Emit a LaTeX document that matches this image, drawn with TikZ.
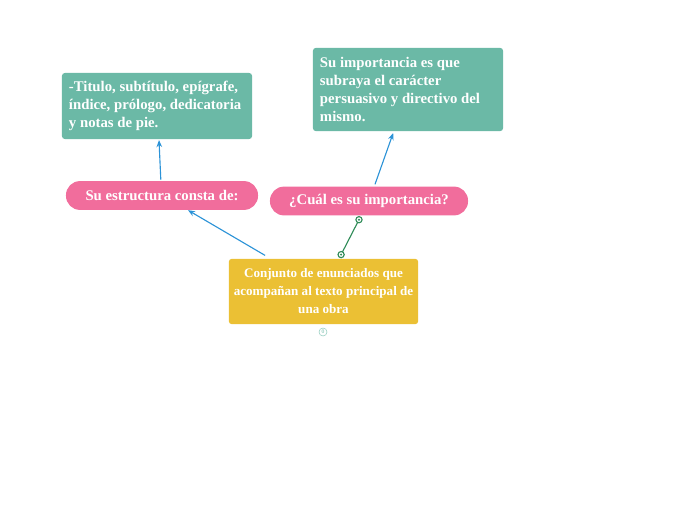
\documentclass[tikz,border=0pt]{standalone}
\usepackage{fontspec}
\setmainfont{Liberation Serif}
\usetikzlibrary{arrows.meta}
\definecolor{amarillo}{HTML}{EBC034}
\definecolor{rosa}{HTML}{F16D9C}
\definecolor{verde}{HTML}{6BB9A6}
\definecolor{azul}{HTML}{2C93D7}
\definecolor{verdeosc}{HTML}{2E8B57}
\begin{document}
\begin{tikzpicture}[x=0.025cm, y=-0.025cm,
    font=\fontsize{10.5}{12.8}\selectfont\bfseries,
    caja/.style={rectangle, rounded corners=2pt, text=white, inner sep=0pt},
    tema/.style={caja, rounded corners=0.35cm, fill=rosa, minimum height=0.72cm},
    idea/.style={caja, fill=verde, align=flush left, text width=4.4cm},
    flecha/.style={-{Stealth[length=5pt,width=4pt]}, azul, thick},
    enlace/.style={verdeosc, thick}]

    \useasboundingbox (0,0) rectangle (696,520);

    % nodos
    \node[caja, fill=amarillo, minimum width=4.73cm, minimum height=1.63cm, align=center,
        font=\fontsize{9.3}{12.8}\selectfont\bfseries] (central) at (323.5,291.5)
        {Conjunto de enunciados que\\acompañan al texto principal de\\una obra};
    \node[tema, minimum width=4.8cm] (estructura) at (162,195.5) {Su estructura consta de:};
    \node[tema, minimum width=4.95cm] (importancia) at (369,201) {¿Cuál es su importancia?};
    \node[idea, minimum width=4.75cm, minimum height=1.65cm] (partes) at (157,106)
        {-Titulo, subtítulo, epígrafe,\\índice, prólogo, dedicatoria\\y notas de pie.};
    \node[idea, minimum width=4.75cm, minimum height=2.08cm] (razon) at (408,89.5)
        {Su importancia es que\\subraya el carácter\\persuasivo y directivo del\\mismo.};
    \node[circle, draw=verde!70, fill=white, inner sep=0pt, minimum size=0.2cm,
        font=\fontsize{4}{4}\selectfont, text=verde] (plegar) at (323,332) {0};

    % flechas
    \draw[flecha] ([xshift=-1.46cm, yshift=0.08cm]central.north) -- ([xshift=0.65cm]estructura.south);
    \draw[flecha] ([xshift=-0.03cm, yshift=0.03cm]estructura.north) -- ([xshift=0.05cm, yshift=-0.02cm]partes.south);
    \draw[flecha] ([xshift=0.15cm, yshift=0.05cm]importancia.north) -- ([xshift=-0.37cm, yshift=-0.04cm]razon.south);

    % enlace
    \coordinate (e1) at ([xshift=0.44cm, yshift=0.1cm]central.north);
    \coordinate (e2) at ([xshift=-0.25cm, yshift=-0.1cm]importancia.south);
    \draw[enlace] (e1) -- (e2);
    \draw[verdeosc, fill=white, thick] (e1) circle (2.2pt) (e2) circle (2.2pt);
    \fill[verdeosc] (e1) circle (0.8pt) (e2) circle (0.8pt);
\end{tikzpicture}
\end{document}
